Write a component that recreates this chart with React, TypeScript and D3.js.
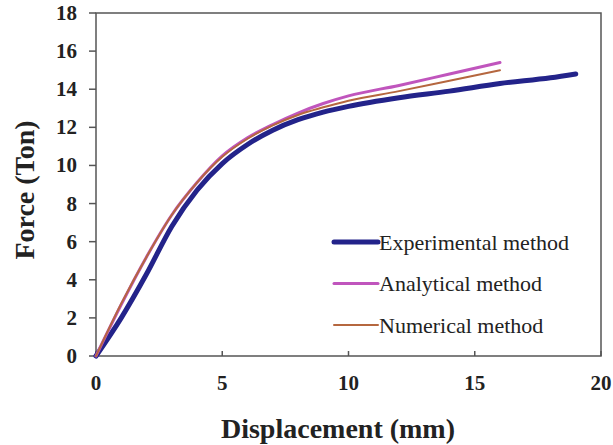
import React, { useEffect, useRef } from "react";
import * as d3 from "d3";

// displacement (mm) / force (ton)
const expX = [0, 1, 2, 3, 4, 5, 6, 7, 8, 9, 10, 12, 14, 16, 18, 19];
const expY = [0, 2.0, 4.3, 6.8, 8.7, 10.1, 11.1, 11.85, 12.4, 12.8, 13.1, 13.55, 13.9, 14.3, 14.6, 14.8];

const anaX = [0, 1, 2, 3, 4, 5, 6, 7, 8, 9, 10, 12, 14, 16];
const anaY = [0, 2.7, 5.2, 7.4, 9.1, 10.5, 11.45, 12.15, 12.75, 13.25, 13.65, 14.2, 14.8, 15.4];

const numX = [0, 1, 2, 3, 4, 5, 6, 7, 8, 9, 10, 12, 14, 16];
const numY = [0, 2.75, 5.2, 7.4, 9.1, 10.45, 11.4, 12.1, 12.65, 13.05, 13.4, 13.9, 14.45, 15.0];

const xTicks = [0, 5, 10, 15, 20];
const yTicks = [0, 2, 4, 6, 8, 10, 12, 14, 16, 18];

const seriesNames = ["Experimental method", "Analytical method", "Numerical method"];
const seriesColors = ["#23238a", "#c055bd", "#b5673f"];
const seriesWidths = [5, 3, 2];

export default function App() {
  const svgRef = useRef<SVGSVGElement>(null);

  useEffect(() => {
    const svg = d3.select(svgRef.current);
    svg.selectAll("*").remove();

    const left = 96, right = 601, top = 13, bottom = 356;
    const x = d3.scaleLinear().domain([0, 20]).range([left, right]);
    const y = d3.scaleLinear().domain([0, 18]).range([bottom, top]);
    const font = "'Liberation Serif', 'Times New Roman', serif";
    const axisColor = "#555";

    svg.append("rect").attr("width", 613).attr("height", 445).attr("fill", "#fff");

    // frame
    svg.append("rect")
      .attr("x", left).attr("y", top)
      .attr("width", right - left).attr("height", bottom - top)
      .attr("fill", "none").attr("stroke", axisColor).attr("stroke-width", 1.5);

    // y ticks (outward)
    const yg = svg.append("g");
    yTicks.forEach((t) => {
      yg.append("line")
        .attr("x1", left - 7).attr("x2", left)
        .attr("y1", y(t)).attr("y2", y(t))
        .attr("stroke", axisColor).attr("stroke-width", 1.5);
      yg.append("text")
        .attr("x", left - 19).attr("y", y(t))
        .attr("text-anchor", "end").attr("dominant-baseline", "central")
        .style("font-family", font).style("font-weight", "bold").style("font-size", "21px")
        .attr("fill", "#222")
        .text(t);
    });

    // x ticks (inward)
    const xg = svg.append("g");
    xTicks.forEach((t) => {
      xg.append("line")
        .attr("x1", x(t)).attr("x2", x(t))
        .attr("y1", bottom).attr("y2", bottom - 5)
        .attr("stroke", axisColor).attr("stroke-width", 1.5);
      xg.append("text")
        .attr("x", x(t)).attr("y", bottom + 27)
        .attr("text-anchor", "middle").attr("dominant-baseline", "central")
        .style("font-family", font).style("font-weight", "bold").style("font-size", "21px")
        .attr("fill", "#222")
        .text(t);
    });

    // axis titles
    svg.append("text")
      .attr("x", 338).attr("y", 428)
      .attr("text-anchor", "middle").attr("dominant-baseline", "central")
      .style("font-family", font).style("font-weight", "bold").style("font-size", "28px")
      .attr("fill", "#222")
      .text("Displacement (mm)");

    svg.append("text")
      .attr("transform", "translate(24, 190) rotate(-90)")
      .attr("text-anchor", "middle").attr("dominant-baseline", "central")
      .style("font-family", font).style("font-weight", "bold").style("font-size", "28px")
      .attr("fill", "#222")
      .text("Force (Ton)");

    // curves
    const line = d3.line<[number, number]>()
      .x((d) => x(d[0]))
      .y((d) => y(d[1]))
      .curve(d3.curveMonotoneX);

    const data: [number, number][][] = [
      expX.map((v, i) => [v, expY[i]]),
      anaX.map((v, i) => [v, anaY[i]]),
      numX.map((v, i) => [v, numY[i]]),
    ];

    data.forEach((pts, i) => {
      svg.append("path")
        .attr("d", line(pts))
        .attr("fill", "none")
        .attr("stroke", seriesColors[i])
        .attr("stroke-width", seriesWidths[i])
        .attr("stroke-linecap", "round")
        .attr("stroke-linejoin", "round");
    });

    // legend
    const lg = svg.append("g");
    seriesNames.forEach((name, i) => {
      const ly = 242 + i * 41.5;
      lg.append("line")
        .attr("x1", 334).attr("x2", 378)
        .attr("y1", ly).attr("y2", ly)
        .attr("stroke", seriesColors[i])
        .attr("stroke-width", seriesWidths[i])
        .attr("stroke-linecap", "round");
      lg.append("text")
        .attr("x", 379).attr("y", ly)
        .attr("dominant-baseline", "central")
        .style("font-family", font).style("font-size", "22px")
        .attr("fill", "#222")
        .text(name);
    });
  }, []);

  return (
    <svg
      ref={svgRef}
      width={613}
      height={445}
      style={{ position: "absolute", left: 0, top: 0, display: "block" }}
    />
  );
}
